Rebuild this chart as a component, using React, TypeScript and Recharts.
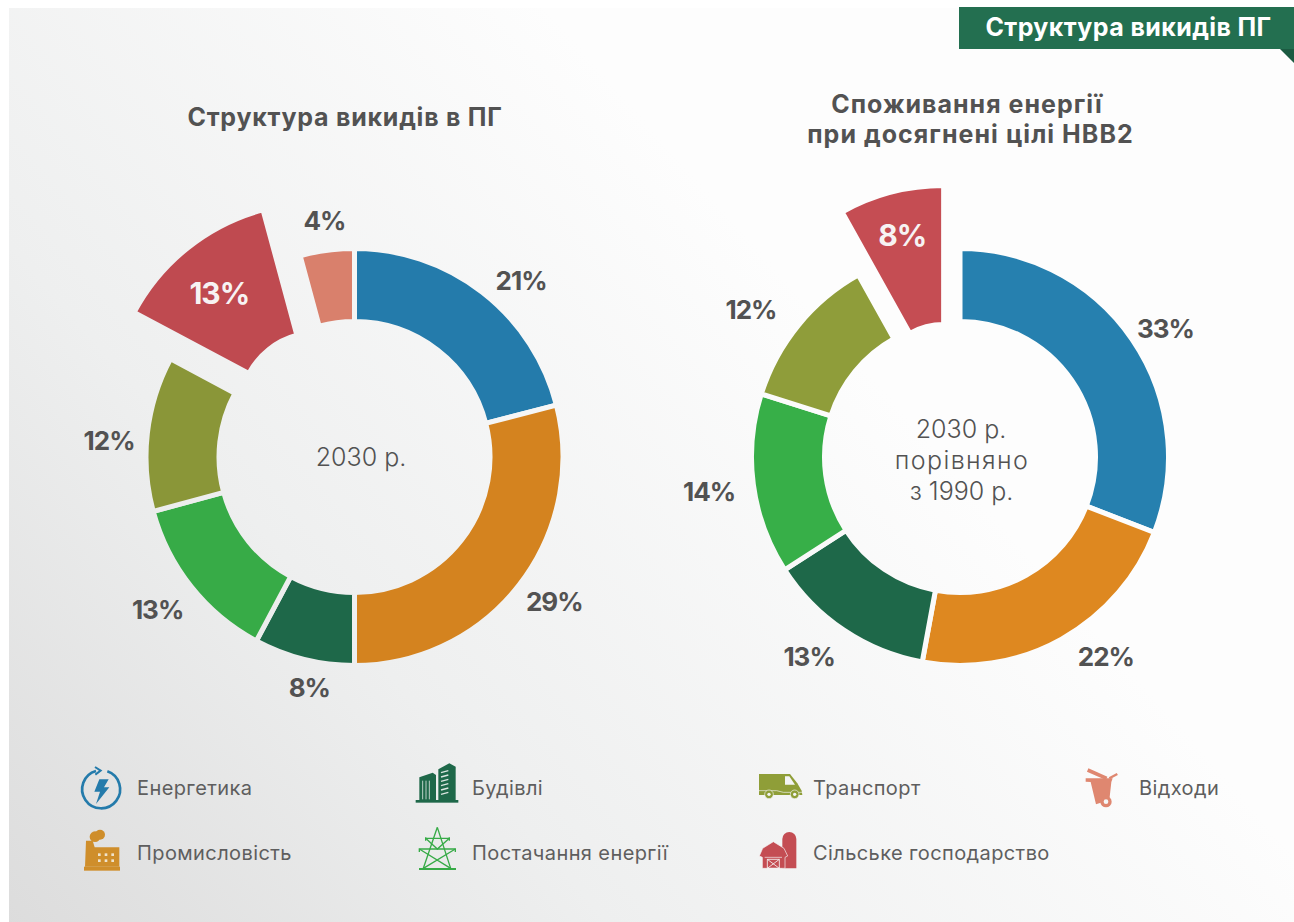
import React from "react";
import { PieChart, Pie, Sector } from "recharts";

const FONT = "Inter, 'Open Sans', sans-serif";
const TEXT = "#525252";

// sector names, in the order of the slices
const sectors = [
  "Енергетика",
  "Промисловість",
  "Будівлі",
  "Постачання енергії",
  "Транспорт",
  "Сільське господарство",
  "Відходи",
];
const colorsLeft = ["#247BAB", "#D4831F", "#1E6849", "#37AB47", "#8A9638", "#BF4A50", "#D9806C"];
const colorsRight = ["#2680AF", "#DE8820", "#1E6849", "#37AF48", "#8F9D3A", "#C54D53"];

// slice sizes as drawn; they differ a little from the printed labels in the source
const sharesLeft = [21, 29, 7.8, 13, 12, 13, 4.2];
const labelsLeft = ["21%", "29%", "8%", "13%", "12%", "13%", "4%"];

const sharesRight = [30.9, 22, 13, 14, 12, 8.1];
const labelsRight = ["33%", "22%", "13%", "14%", "12%", "8%"];

const leftData = sharesLeft.map((value, i) => ({ name: sectors[i], value, fill: colorsLeft[i], label: labelsLeft[i] }));
const rightData = sharesRight.map((value, i) => ({ name: sectors[i], value, fill: colorsRight[i], label: labelsRight[i] }));

const EXPLODED = "Сільське господарство";
const RAD = Math.PI / 180;

// pulled-out slice of each ring: offset and radii
const explodeLeft = { shift: 60, inner: 77.5, outer: 207.5 };
const explodeRight = { shift: 65, inner: 69.5, outer: 208.5 };

// hand placement of the labels, the source does not sit them on a circle
const nudgeLeft = [[17, 16], [7, -5], [14, -6], [-6, 1], [-3, 11], [-15, -13], [2, 5]];
const nudgeRight = [[4, 9], [27, -14], [-15, -3], [-9, 2], [-20, 7], [-8, -30]];

const legendCols = [137, 472, 813, 1139];
const legendRows = [788, 853];

const gapSector = (ex: { shift: number; inner: number; outer: number }) => (props: any) => {
  if (props.name !== EXPLODED) return <Sector {...props} />;
  const dx = ex.shift * Math.cos(-props.midAngle * RAD);
  const dy = ex.shift * Math.sin(-props.midAngle * RAD);
  return <Sector {...props} cx={props.cx + dx} cy={props.cy + dy} innerRadius={ex.inner} outerRadius={ex.outer} />;
};

const sliceLabel = (nudge: number[][], ex: { shift: number }) => (props: any) => {
  const { cx, cy, midAngle, index, payload } = props;
  const row = payload?.payload ?? payload;
  const exploded = (props.name ?? row.name) === EXPLODED;
  const sin = Math.sin(-midAngle * RAD);
  const cos = Math.cos(-midAngle * RAD);
  const r = exploded ? ex.shift + 133 : 244;
  const x = cx + r * cos + nudge[index][0];
  const y = cy + r * sin + nudge[index][1];
  return (
    <text
      x={x}
      y={y}
      textAnchor="middle"
      dominantBaseline="central"
      fontFamily={FONT}
      fontWeight={700}
      fontSize={exploded ? 30 : 26}
      letterSpacing={-1}
      fill={exploded ? "#F7F3F3" : TEXT}
    >
      {props.label ?? row.label}
    </text>
  );
};

// icons are traced in 3x coordinates, so they are scaled down when placed
function EnergyIcon() {
  return (
    <g>
      <path d="M142 64 A57 57 0 1 1 108 63" fill="none" stroke="#247BAB" strokeWidth={8} />
      <path d="M105 51 L122 62 L106 74" fill="none" stroke="#247BAB" strokeWidth={6} />
      <path d="M118 88 L146 88 L132 112 L148 112 L108 162 L120 125 L103 125 Z" fill="#247BAB" />
    </g>
  );
}

function FactoryIcon() {
  const c = "#CF8E2B";
  return (
    <g>
      <rect x={72} y={350} width={108} height={12} fill={c} />
      <path d="M78 272 L98 272 L104 292 L178 292 L178 350 L75 350 Z" fill={c} />
      <circle cx={105} cy={260} r={16} fill={c} />
      <circle cx={120} cy={254} r={15} fill={c} />
      {[118, 138, 158].map((x) =>
        [314, 332].map((y) => <rect key={x + "-" + y} x={x - 4} y={y - 4} width={8} height={8} fill="#EFE3CC" />)
      )}
    </g>
  );
}

function BuildingIcon() {
  const c = "#1E6849";
  return (
    <g>
      <rect x={1067} y={150} width={128} height={8} fill={c} />
      <path d="M1135 58 L1168 40 L1187 50 L1187 150 L1135 150 Z" fill={c} />
      <path d="M1078 82 L1118 68 L1128 75 L1128 150 L1078 150 Z" fill={c} />
      {[62, 75, 88, 101, 114, 127].map((y) => (
        <path key={y} d={`M1143 ${y + 6} L1165 ${y}`} stroke="#DCE6E1" strokeWidth={4} />
      ))}
      {[1088, 1098, 1108].map((x) => (
        <path key={x} d={`M${x} 92 L${x} 148`} stroke="#DCE6E1" strokeWidth={2.5} />
      ))}
    </g>
  );
}

function PylonIcon() {
  return (
    <g fill="none" stroke="#37AB47" strokeWidth={4}>
      <path d="M1077 357 L1188 357" strokeWidth={6} />
      <path d="M1132 232 L1090 355 M1132 232 L1172 355" />
      <path d="M1097 265 L1168 265 M1097 272 L1097 262 M1168 272 L1168 262" />
      <path d="M1078 297 L1186 297 M1078 306 L1078 295 M1186 306 L1186 295" />
      <path d="M1097 265 L1132 297 L1168 265 M1078 297 L1172 355 M1186 297 L1090 355" />
    </g>
  );
}

function VanIcon() {
  const c = "#8F9E38";
  return (
    <g>
      <path d="M57 72 L150 72 L172 100 L185 122 L187 135 L57 135 Z" fill={c} />
      <path d="M135 79 L148 79 L165 104 L135 104 Z" fill="#F3F4F4" />
      <path d="M57 122 L110 122 L130 127 L187 127" stroke="#F3F4F4" strokeWidth={2} fill="none" />
      {[87, 164].map((x) => (
        <g key={x}>
          <circle cx={x} cy={133} r={13} fill={c} stroke="#F3F4F4" strokeWidth={2} />
          <circle cx={x} cy={133} r={5} fill="#F3F4F4" />
        </g>
      ))}
    </g>
  );
}

function BinIcon() {
  const c = "#DF8770";
  return (
    <g>
      <path d="M1043 60 L1100 85" stroke={c} strokeWidth={11} />
      <path d="M1108 85 L1132 72" stroke={c} strokeWidth={7} />
      <path d="M1037 85 L1118 85 L1114 96 L1108 150 L1068 163 L1052 96 L1037 95 Z" fill={c} />
      <circle cx={1098} cy={155} r={17} fill={c} />
      <circle cx={1098} cy={155} r={7} fill="#F6F7F7" />
    </g>
  );
}

function BarnIcon() {
  const c = "#C44D53";
  return (
    <g>
      <path d="M127 355 L127 267 A21 21 0 0 1 169 267 L169 355 Z" fill={c} />
      <path d="M58 318 L68 295 L100 275 L132 295 L143 318 L135 322 L135 355 L67 355 L67 322 Z" fill={c} stroke="#F6F6F6" strokeWidth={2} />
      <path d="M74 322 L126 322" stroke="#F6F6F6" strokeWidth={2} />
      <path d="M82 328 L118 328 L118 355 L82 355 Z M82 328 L118 355 M118 328 L82 355" fill="none" stroke="#F6F6F6" strokeWidth={2.5} />
    </g>
  );
}

const legendIcons = [
  { col: 0, row: 0, name: sectors[0], Icon: EnergyIcon, ox: 60, oy: 750 },
  { col: 0, row: 1, name: sectors[1], Icon: FactoryIcon, ox: 60, oy: 750 },
  { col: 1, row: 0, name: sectors[2], Icon: BuildingIcon, ox: 60, oy: 750 },
  { col: 1, row: 1, name: sectors[3], Icon: PylonIcon, ox: 60, oy: 750 },
  { col: 2, row: 0, name: sectors[4], Icon: VanIcon, ox: 740, oy: 750 },
  { col: 2, row: 1, name: sectors[5], Icon: BarnIcon, ox: 740, oy: 750 },
  { col: 3, row: 0, name: sectors[6], Icon: BinIcon, ox: 740, oy: 750 },
];

const pieProps = {
  dataKey: "value",
  cy: 457,
  innerRadius: 135.5,
  outerRadius: 208.5,
  startAngle: 90,
  endAngle: -270,
  stroke: "url(#pageBg)",
  strokeWidth: 5,
  labelLine: false,
  isAnimationActive: false,
};

export default function App() {
  return (
    <div style={{ position: "fixed", left: 0, top: 0, width: 1294, height: 922, background: "#fff", overflow: "hidden" }}>
      <PieChart width={1294} height={922} margin={{ top: 0, right: 0, bottom: 0, left: 0 }}>
        <defs>
          <linearGradient id="pageBg" gradientUnits="userSpaceOnUse" x1={0} y1={922} x2={760} y2={250}>
            <stop offset="0" stopColor="#DCDCDC" />
            <stop offset="0.45" stopColor="#EEEFEF" />
            <stop offset="1" stopColor="#FDFDFD" />
          </linearGradient>
        </defs>
        <rect x={9} y={8} width={1285} height={914} fill="url(#pageBg)" />

        <Pie {...pieProps} data={leftData} cx={354.5} shape={gapSector(explodeLeft)} label={sliceLabel(nudgeLeft, explodeLeft)} />
        <Pie {...pieProps} data={rightData} cx={960} shape={gapSector(explodeRight)} label={sliceLabel(nudgeRight, explodeRight)} />

        <g fontFamily={FONT} fill={TEXT}>
          <text x={345} y={117} textAnchor="middle" dominantBaseline="central" fontSize={25} fontWeight={700} letterSpacing={0.76}>
            Структура викидів в ПГ
          </text>
          <text x={967} y={103.5} textAnchor="middle" dominantBaseline="central" fontSize={25} fontWeight={700} letterSpacing={1}>
            Споживання енергії
          </text>
          <text x={970.5} y={134} textAnchor="middle" dominantBaseline="central" fontSize={25} fontWeight={700} letterSpacing={1.05}>
            при досягнені цілі НВВ2
          </text>
          <text x={361} y={457} textAnchor="middle" dominantBaseline="central" fontSize={25} fontWeight={300}>2030 р.</text>
          <text x={961} y={429} textAnchor="middle" dominantBaseline="central" fontSize={25} fontWeight={300}>2030 р.</text>
          <text x={962} y={460} textAnchor="middle" dominantBaseline="central" fontSize={25} fontWeight={300} letterSpacing={1.4}>порівняно</text>
          <text x={961.5} y={491} textAnchor="middle" dominantBaseline="central" fontSize={25} fontWeight={300}>з 1990 р.</text>
        </g>

        <rect x={959} y={7} width={335} height={42} fill="#236F50" />
        <path d="M1280 49 L1294 49 L1294 63 Z" fill="#1B5A41" />
        <text x={1128.5} y={26.5} textAnchor="middle" dominantBaseline="central" fontFamily={FONT} fontSize={25} fontWeight={700} letterSpacing={0.4} fill="#fff">
          Структура викидів ПГ
        </text>

        {legendIcons.map(({ col, row, name, Icon, ox, oy }) => (
          <g key={name}>
            <g transform={`translate(${ox} ${oy}) scale(${1 / 3})`}>
              <Icon />
            </g>
            <text
              x={legendCols[col]}
              y={legendRows[row]}
              dominantBaseline="central"
              fontFamily={FONT}
              fontSize={20}
              fontWeight={400}
              letterSpacing={0.4}
              fill="#5E5E5E"
            >
              {name}
            </text>
          </g>
        ))}
      </PieChart>
    </div>
  );
}
